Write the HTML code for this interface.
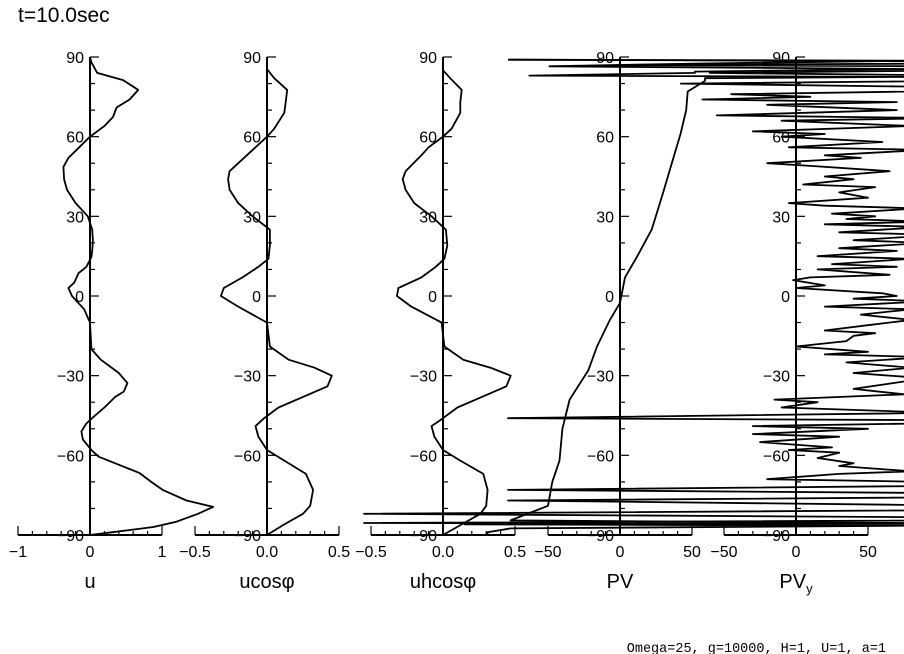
<!DOCTYPE html>
<html><head><meta charset="utf-8">
<style>
html,body{margin:0;padding:0;background:#fff;}
svg{display:block;}
text{font-family:"Liberation Sans",sans-serif;fill:#000;}
</style></head>
<body>
<svg id="chart" width="904" height="654" viewBox="0 0 904 654" xmlns="http://www.w3.org/2000/svg">
<text x="18" y="22" font-size="21">t=10.0sec</text>
<text x="886" y="652" font-size="13.5" text-anchor="end" style="font-family:'Liberation Mono',monospace">Omega=25, g=10000, H=1, U=1, a=1</text>
</svg>
<script>
// ---- data ----
const latTicks = [90, 60, 30, 0, -30, -60, -90];
const uLat = [90,88,84,81.3,77.6,74,71,67.4,64,60,56,52,48.6,44,40,35,30,25,21,17,14.7,11,8.6,5,3,0,-1.5,-5,-10,-15,-20,-24,-29,-32.8,-36,-38,-42,-45.5,-48,-51,-54,-58,-60.5,-63,-66.7,-70,-73,-77,-79.4,-82,-85,-87,-89,-90];
const uVal = [0,0.02,0.1,0.46,0.67,0.55,0.37,0.32,0.2,0,-0.15,-0.3,-0.37,-0.36,-0.32,-0.2,-0.03,0.03,0.04,0.03,0.02,-0.05,-0.16,-0.22,-0.3,-0.25,-0.2,-0.08,0,0.01,0.02,0.15,0.4,0.52,0.47,0.35,0.2,0.05,-0.05,-0.12,-0.1,0.02,0.12,0.35,0.69,0.85,1.01,1.34,1.71,1.5,1.2,0.88,0.3,0];
const ucLat = [90,85.5,82,77.6,73,69,63,60,56,53,47,44,40,35,30,25,19,14,11,7,3,0,-4,-10,-19,-24,-27,-30,-34,-38,-42,-46,-49,-53,-58,-62,-67,-73,-79,-82,-86,-90];
const ucVal = [0,0,0.05,0.14,0.13,0.12,0.05,0,-0.08,-0.14,-0.26,-0.27,-0.26,-0.2,-0.1,0.02,0.02,0.01,-0.06,-0.17,-0.3,-0.32,-0.2,0,0.02,0.15,0.33,0.45,0.42,0.25,0.08,-0.02,-0.08,-0.06,0,0.12,0.27,0.32,0.3,0.25,0.12,0];
const uhLat = [90,85,82,77.6,73,69,63,60,56,53,47,44,40,35,30,25,19,14,11,7,3,0,-4,-10,-19,-24,-27,-30,-34,-38,-42,-46,-49,-53,-58,-62,-67,-73,-79,-82,-86,-90];
const uhVal = [0,0,0.05,0.13,0.12,0.12,0.06,0,-0.1,-0.15,-0.26,-0.28,-0.26,-0.2,-0.08,0.02,0.03,0.01,-0.05,-0.15,-0.31,-0.32,-0.22,-0.01,0.01,0.14,0.33,0.47,0.44,0.27,0.1,0,-0.08,-0.06,0,0.12,0.28,0.31,0.3,0.26,0.13,0];
const pvLat = [89,88.6,87.5,86.5,85.5,84.5,84,83,82.5,82,81,77,70,61,50,39,25,15,7,-2.6,-9,-19,-28,-39,-50,-62,-70,-79,-84.5,-85.5,-86,-86.5,-87.5,-89,-90];
const pvVal = [-76,200,52,-49,200,52,52,-63,200,59,59,47,46,42,36,30,22,12,3.5,0,-7,-16,-22,-35,-40,-42,-47,-50,-76,200,-108,200,-76,-92,-92];
const pvyLat = [89,88,87,86,84,82,80,78,76,75,74,73,72,70,68,67,66,64,62,61,60,58,56,55,53,52,50,49,47,45,44,42,41,39,37,35,34,33,31,30,29,28,27,26,24,23,21,20,18,17,15,14,12,11,10,8,7,6,4,3,1,0,-1,-2,-4,-5,-7,-9,-11,-13,-14,-15,-17,-19,-21,-22,-23,-25,-27,-29,-31,-33,-35,-37,-39,-40,-42,-44,-46,-47,-49,-50,-52,-53,-55,-57,-58,-59,-61,-63,-64,-66,-67,-69,-71,-73,-75,-77,-80,-82,-84,-85.5,-86,-88];
const pvyVal = [-200,300,-120,300,-60,300,-80,200,-45,10,-65,70,-20,70,-55,100,-10,80,-30,20,-10,60,-5,90,20,45,-20,10,65,20,40,5,55,30,50,-5,20,85,25,55,35,90,20,90,30,100,40,90,30,70,15,80,25,70,15,65,10,-2,20,0,60,70,40,90,20,80,45,80,50,20,55,40,35,0,50,20,90,35,80,40,90,65,40,75,-15,15,-10,100,-200,200,-30,50,-30,30,-25,25,-5,30,15,40,30,80,30,-20,200,-200,300,-200,300,-300,300,-300,300,200];
const xTickLabels1 = ["−1","0","1"];
const xTickLabels2 = ["−0.5","0.0","0.5"];
const xTickLabels4 = ["−50","0","50"];

// ---- layout (not data) ----
const NS = "http://www.w3.org/2000/svg";
const svg = document.getElementById("chart");
const yTop = 57, yBot = 535;
function yScale(lat){ return yTop + (90 - lat) * (yBot - yTop) / 180; }

function mk(tag, attrs, parent){
  const e = document.createElementNS(NS, tag);
  for (const k in attrs) e.setAttribute(k, attrs[k]);
  (parent || svg).appendChild(e);
  return e;
}

const panels = [
  {key:"u", ax:90, max:1, minor:0.2, labels:xTickLabels1, lat:uLat, val:uVal, title:"u"},
  {key:"ucos", ax:267, max:0.5, minor:0.1, labels:xTickLabels2, lat:ucLat, val:ucVal, title:"ucos\u03C6"},
  {key:"uhcos", ax:443, max:0.5, minor:0.1, labels:xTickLabels2, lat:uhLat, val:uhVal, title:"uhcos\u03C6"},
  {key:"pv", ax:620, max:50, minor:10, labels:xTickLabels4, lat:pvLat, val:pvVal, title:"PV"},
  {key:"pvy", ax:796, max:50, minor:10, labels:xTickLabels4, lat:pvyLat, val:pvyVal, title:"PV", sub:"y"}
];

panels.forEach(p => {
  const g = mk("g", {});
  
  
  const xs = v => p.ax + v * 72 / p.max;
  const ya = mk("line", {x1:p.ax, y1:yTop, x2:p.ax, y2:yBot, stroke:"#000", "stroke-width":2}, g);
  
  
  for (let lat = -90; lat <= 90; lat += 10) {
    const y = yScale(lat);
    const major = lat % 30 === 0;
    mk("line", {x1:p.ax, y1:y, x2:p.ax + (major ? 9 : 5), y2:y, stroke:"#000", "stroke-width":1.2}, g);
  }
  latTicks.forEach(lat => {
    const t = mk("text", {x:p.ax - 6, y:yScale(lat) + 6, "font-size":16, "text-anchor":"end"}, g);
    
    
    t.textContent = String(lat).replace("-", "\u2212");
  });
  const xa = mk("line", {x1:xs(-p.max), y1:yBot, x2:xs(p.max), y2:yBot, stroke:"#000", "stroke-width":2}, g);
  
  
  const n = Math.round(p.max / p.minor);
  for (let i = -n; i <= n; i++) {
    const x = xs(i * p.minor);
    const major = (i === -n || i === 0 || i === n);
    mk("line", {x1:x, y1:yBot, x2:x, y2:yBot - (major ? 9 : 4), stroke:"#000", "stroke-width":1.2}, g);
  }
  p.labels.forEach((lab, i) => {
    const t = mk("text", {x:xs((i - 1) * p.max), y:557, "font-size":16, "text-anchor":"middle"}, g);
    
    
    t.textContent = lab;
  });
  const tt = mk("text", {x:p.ax, y:588, "font-size":20, "text-anchor":"middle"}, g);
  
  
  tt.textContent = p.title;
  if (p.sub) {
    const ts = mk("tspan", {"font-size":13, dy:5}, tt);
    ts.textContent = p.sub;
  }
  const pts = p.lat.map((lat, i) => xs(p.val[i]).toFixed(1) + "," + yScale(lat).toFixed(1)).join(" ");
  const line = mk("polyline", {points:pts, fill:"none", stroke:"#000", "stroke-width":1.8, "stroke-linejoin":"round"}, g);
  
  
});
</script>
</body></html>
